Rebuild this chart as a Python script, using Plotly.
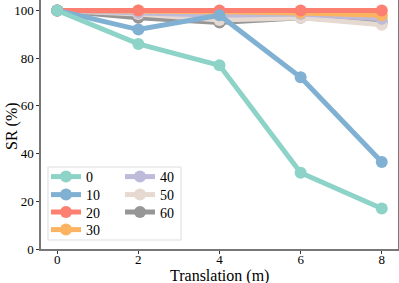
import plotly.graph_objects as go

x_vals = [0, 2, 4, 6, 8]
series_names = ["0", "10", "20", "30", "40", "50", "60"]
sr_0 = [100, 86, 77, 32, 17]
sr_10 = [100, 92, 98, 72, 36.5]
sr_20 = [100, 100, 100, 100, 100]
sr_30 = [100, 100, 99.5, 99, 98]
sr_40 = [100, 99, 98, 98.5, 96.5]
sr_50 = [100, 98.5, 96, 97, 94]
sr_60 = [100, 97, 95, 97, 95]
series_values = [sr_0, sr_10, sr_20, sr_30, sr_40, sr_50, sr_60]
colors = ["#8dd3c7", "#80b1d3", "#fb8072", "#fdb462", "#bebada", "#e6d9d1", "#969696"]

W, H = 399, 283
ml, mr, mt, mb = 41, 1, 0, 34
pw, ph = W - ml - mr, H - mt - mb

def px(xp):
    return (xp - ml) / pw

def py(yp):
    return (H - mb - yp) / ph

font = "Liberation Serif, Times New Roman, serif"

# legend entry slots: (column x pixel, row center y pixel)
legend_slots = [(46, 177), (46, 195), (46, 212.5), (46, 230),
                (120, 177), (120, 195), (120, 212.5)]

fig = go.Figure()
legend_layouts = {}
for i in reversed(range(len(series_names))):
    lname = "legend" if i == 0 else f"legend{i + 1}"
    fig.add_trace(go.Scatter(
        x=x_vals, y=series_values[i], name=series_names[i],
        mode="lines+markers",
        line=dict(color=colors[i], width=5),
        marker=dict(color=colors[i], size=12),
        legend=lname, showlegend=True,
    ))
    sx, sy = legend_slots[i]
    legend_layouts[lname] = dict(
        x=px(sx), y=py(sy), xanchor="left", yanchor="middle",
        bgcolor="rgba(0,0,0,0)", borderwidth=0,
        font=dict(family=font, size=14, color="black"),
    )

fig.update_layout(
    width=W, height=H, showlegend=True,
    margin=dict(l=ml, r=mr, t=mt, b=mb, autoexpand=False),
    plot_bgcolor="white", paper_bgcolor="white",
    font=dict(family=font, size=13, color="black"),
    xaxis=dict(range=[-0.4, 8.4], tickvals=x_vals, ticks="outside", ticklen=3,
               tickcolor="#333", showgrid=False, zeroline=False, automargin=False,
               showline=True, linecolor="#777", linewidth=1.5, mirror=True,
               ticklabelstandoff=-5,
               tickfont=dict(size=13)),
    yaxis=dict(range=[0, 104.4], tickvals=[0, 20, 40, 60, 80, 100], ticks="outside",
               ticklen=3, tickcolor="#333", showgrid=False, zeroline=False,
               automargin=False,
               showline=True, linecolor="#777", linewidth=1.5, mirror=True,
               tickfont=dict(size=13)),
    annotations=[
        dict(text="Translation (m)", xref="paper", yref="paper",
             x=px(219), y=py(276), xanchor="center", yanchor="middle",
             showarrow=False, font=dict(family=font, size=16, color="black")),
        dict(text="SR (%)", xref="paper", yref="paper", textangle=-90,
             x=px(12), y=py(126), xanchor="center", yanchor="middle",
             showarrow=False, font=dict(family=font, size=16, color="black")),
    ],
    shapes=[dict(type="rect", xref="paper", yref="paper",
                 x0=px(48), x1=px(181), y0=py(240), y1=py(167),
                 line=dict(color="#dddddd", width=1), fillcolor="white",
                 layer="below")],
    **legend_layouts,
)

fig.write_html("out.html", config={"displayModeBar": False},
               post_script="document.body.style.margin='0px';")
